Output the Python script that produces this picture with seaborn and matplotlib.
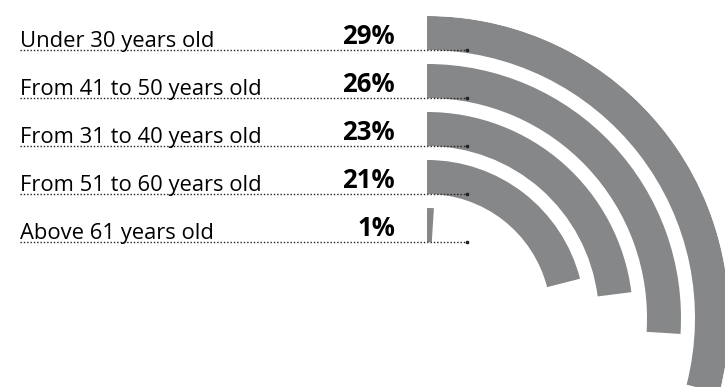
import numpy as np
import matplotlib
matplotlib.use("Agg")
import matplotlib.pyplot as plt
import seaborn as sns

# Age groups and their shares (%)
categories = ["Under 30 years old", "From 41 to 50 years old", "From 31 to 40 years old",
              "From 51 to 60 years old", "Above 61 years old"]
values = [29, 26, 23, 21, 1]
value_labels = ["29%", "26%", "23%", "21%", "1%"]

sns.set_theme(style="white")
plt.rcParams["font.family"] = ["Open Sans", "DejaVu Sans"]

W, H, DPI = 725, 387, 100
fig = plt.figure(figsize=(W / DPI, H / DPI), dpi=DPI)
fig.patch.set_facecolor("white")

bar_color = "#868789"

# Radial bars: polar axes centred at pixel (427, 318), radius 302 px
cx, cy, R = 427, 318, 302
pax = fig.add_axes([(cx - R) / W, (H - cy - R) / H, 2 * R / W, 2 * R / H], projection="polar")
pax.set_theta_zero_location("N")
pax.set_theta_direction(-1)
pax.set_ylim(0, R)
pax.set_axis_off()

track, thick = 48, 34
for i, v in enumerate(values):
    outer = R - track * i
    pax.bar(0, thick, width=np.deg2rad(v / 100 * 360), bottom=outer - thick,
            align="edge", color=bar_color, edgecolor="none", linewidth=0, zorder=2)

# Labels, values and dotted leader lines in pixel coordinates
tax = fig.add_axes([0, 0, 1, 1], zorder=3)
tax.set_xlim(0, W)
tax.set_ylim(H, 0)
tax.set_axis_off()
tax.patch.set_alpha(0)

for i, (cat, lab) in enumerate(zip(categories, value_labels)):
    base = 46.5 + track * i
    tax.text(20, base, cat, fontsize=15.8, color="black", va="baseline", ha="left")
    tax.text(395, base - 2.5, lab, fontsize=18.5, fontweight="bold", color="black",
             va="baseline", ha="right")
    ly = 50 + track * i
    tax.plot([20, 467], [ly, ly], color="#222222", linewidth=1.0,
             linestyle=(0, (1, 1.4)), solid_capstyle="butt")
    tax.plot([467.5], [ly], marker="s", markersize=1.8, color="#222222")

fig.savefig("out.png", dpi=DPI, facecolor="white")
